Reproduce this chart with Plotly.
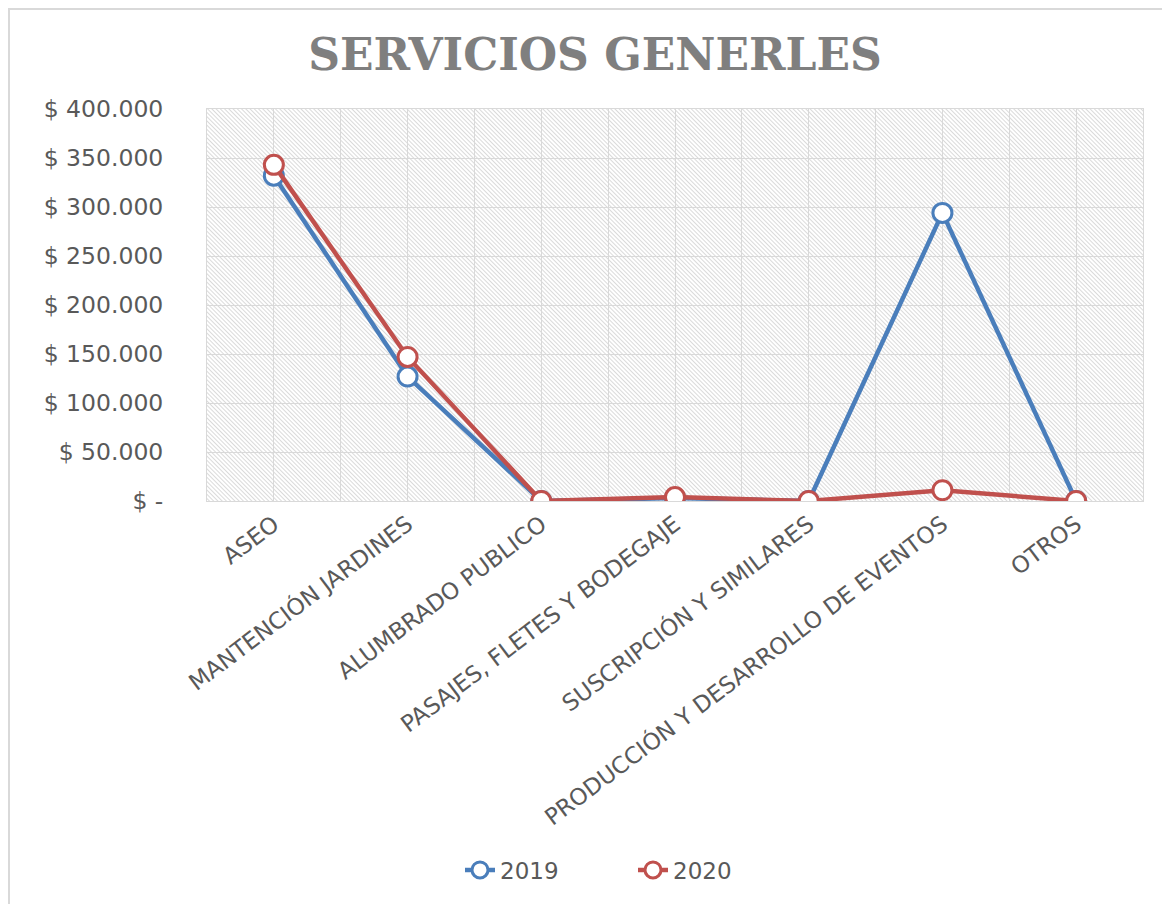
import base64
import plotly.graph_objects as go

# Datos del gráfico
categorias = ['ASEO', 'MANTENCIÓN JARDINES', 'ALUMBRADO PUBLICO', 'PASAJES, FLETES Y BODEGAJE',
              'SUSCRIPCIÓN Y SIMILARES', 'PRODUCCIÓN Y DESARROLLO DE EVENTOS', 'OTROS']
valores_2019 = [332000, 127000, 0, 3000, 0, 294000, 0]
valores_2020 = [343000, 147000, 0, 4000, 0, 11000, 0]
y_ticks = [0, 50000, 100000, 150000, 200000, 250000, 300000, 350000, 400000]
y_tick_labels = ['$ -', '$ 50.000', '$ 100.000', '$ 150.000', '$ 200.000',
                 '$ 250.000', '$ 300.000', '$ 350.000', '$ 400.000']

AZUL = '#4A7EBB'
ROJO = '#C0504D'
GRIS_TXT = '#595959'
GRIS_GRID = '#d9d9d9'

# la página tiene 8px de margen, así que la figura empieza en (8, 8)
W, H = 1162, 896
PL, PT, PW, PH = 199, 101, 936, 392

# Fondo rayado del área de trazado (SVG como imagen)
svg = ('<svg xmlns="http://www.w3.org/2000/svg" width="936" height="392" '
       'preserveAspectRatio="none">'
       '<defs><pattern id="p" patternUnits="userSpaceOnUse" width="3" height="10" '
       'patternTransform="rotate(-45)">'
       '<rect x="0" y="0" width="0.9" height="10" fill="#d6d6d6"/></pattern></defs>'
       '<rect width="936" height="392" fill="#ffffff"/>'
       '<rect width="936" height="392" fill="url(#p)"/></svg>')
svg_uri = 'data:image/svg+xml;base64,' + base64.b64encode(svg.encode()).decode()

x = list(range(len(categorias)))

fig = go.Figure()
fig.add_trace(go.Scatter(
    x=x, y=valores_2019, name='2019', mode='lines+markers',
    line=dict(color=AZUL, width=4.5),
    marker=dict(symbol='circle', size=19, color='white', line=dict(color=AZUL, width=3))
))
fig.add_trace(go.Scatter(
    x=x, y=valores_2020, name='2020', mode='lines+markers',
    line=dict(color=ROJO, width=4.5),
    marker=dict(symbol='circle', size=19, color='white', line=dict(color=ROJO, width=3))
))

fig.update_layout(
    width=W, height=H,
    margin=dict(l=PL, r=W - PL - PW, t=PT, b=H - PT - PH),
    paper_bgcolor='white',
    plot_bgcolor='rgba(0,0,0,0)',
    title=dict(
        text='<b>SERVICIOS GENERLES</b>',
        font=dict(family='DejaVu Serif', size=44, color='#7f7f7f'),
        x=587 / W, xref='container', xanchor='center',
        y=(H - 47) / H, yref='container', yanchor='middle'
    ),
    font=dict(family='DejaVu Sans', color=GRIS_TXT),
    showlegend=True,
    legend=dict(
        orientation='h', x=(625 - PL) / PW, xanchor='center',
        y=-(862 - PT - PH) / PH, yanchor='middle',
        font=dict(family='DejaVu Sans', size=23, color=GRIS_TXT),
        entrywidth=128, bgcolor='rgba(0,0,0,0)'
    ),
    images=[dict(
        source=svg_uri, xref='paper', yref='paper', x=0, y=1, sizex=1, sizey=1,
        xanchor='left', yanchor='top', sizing='stretch', layer='below'
    )],
    shapes=[dict(
        type='rect', xref='paper', yref='paper',
        x0=(1 - PL) / PW, x1=1.2, y0=-1.3, y1=1 + (PT - 1) / PH,
        line=dict(color=GRIS_GRID, width=2), fillcolor='rgba(0,0,0,0)', layer='below'
    )]
)

fig.update_xaxes(
    range=[-0.5, 6.5], tickmode='array', tickvals=x, ticktext=categorias,
    tickangle=-37, tickfont=dict(family='DejaVu Sans', size=23, color=GRIS_TXT),
    showgrid=True, gridcolor=GRIS_GRID, gridwidth=1,
    minor=dict(tickmode='linear', tick0=-0.5, dtick=1, showgrid=True,
               gridcolor=GRIS_GRID, gridwidth=1),
    showline=True, mirror=True, linecolor=GRIS_GRID, linewidth=1,
    zeroline=False, ticks='', fixedrange=True
)
fig.update_yaxes(
    range=[0, 400000], tickmode='array', tickvals=y_ticks, ticktext=y_tick_labels,
    tickfont=dict(family='DejaVu Sans', size=23.5, color=GRIS_TXT),
    showgrid=True, gridcolor=GRIS_GRID, gridwidth=1,
    showline=True, mirror=True, linecolor=GRIS_GRID, linewidth=1,
    zeroline=False, ticks='', ticklabelstandoff=38,
    fixedrange=True
)

fig.write_html('out.html')
